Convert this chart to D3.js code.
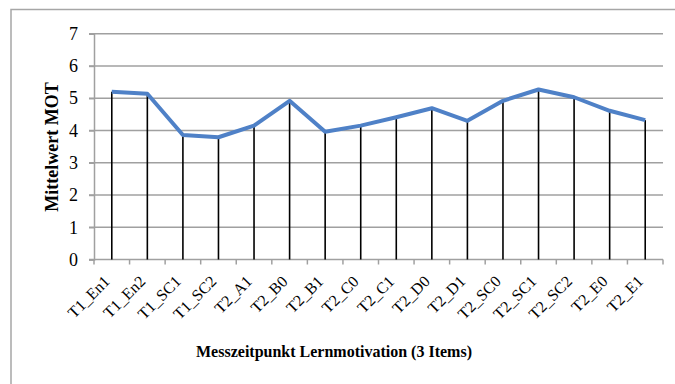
<!DOCTYPE html>
<html>
<head>
<meta charset="utf-8">
<script src="https://cdn.jsdelivr.net/npm/d3@7"></script>
<style>
  html, body { margin: 0; padding: 0; background: #fff; }
  svg { display: block; }
  svg text { font-family: 'Liberation Serif', 'Times New Roman', serif; }
</style>
</head>
<body>
<svg id="chart" width="675" height="384"></svg>
<script>
// Messzeitpunkte (Kategorien) und Mittelwerte der Lernmotivation
const categories = ["T1_En1", "T1_En2", "T1_SC1", "T1_SC2", "T2_A1", "T2_B0", "T2_B1", "T2_C0",
                    "T2_C1", "T2_D0", "T2_D1", "T2_SC0", "T2_SC1", "T2_SC2", "T2_E0", "T2_E1"];
const values = [5.20, 5.14, 3.86, 3.79, 4.15, 4.92, 3.96, 4.15,
                4.41, 4.69, 4.30, 4.92, 5.27, 5.03, 4.61, 4.32];
const yTicks = [0, 1, 2, 3, 4, 5, 6, 7];
const yTitle = "Mittelwert MOT";
const xTitle = "Messzeitpunkt Lernmotivation (3 Items)";

const svg = d3.select("#chart");
const font = "'Liberation Serif', 'Times New Roman', serif";

// Rahmen um das Diagramm
svg.append("rect")
  .attr("x", 11).attr("y", 9.5)
  .attr("width", 700).attr("height", 400)
  .attr("fill", "none").attr("stroke", "#a6a6a6").attr("stroke-width", 1.5);

const plot = { left: 94, right: 663, top: 33.7, bottom: 259.5 };

const x = d3.scaleBand().domain(categories).range([plot.left, plot.right]).padding(0);
const y = d3.scaleLinear().domain([0, 7]).range([plot.bottom, plot.top]);

// Horizontale Gitterlinien
svg.append("g").selectAll("line").data(yTicks.filter(d => d > 0)).join("line")
  .attr("x1", plot.left - 5).attr("x2", plot.right)
  .attr("y1", d => y(d)).attr("y2", d => y(d))
  .attr("stroke", "#a0a0a0").attr("stroke-width", 1.5);

// y-Achse
const yAxis = svg.append("g").attr("transform", `translate(${plot.left},0)`)
  .call(d3.axisLeft(y).tickValues(yTicks).tickSize(5).tickPadding(11).tickFormat(d3.format("d")));
yAxis.attr("font-family", null).attr("font-size", null);
yAxis.select(".domain").attr("stroke", "#a0a0a0").attr("stroke-width", 1.5);
yAxis.selectAll(".tick line").attr("stroke", "#a0a0a0").attr("stroke-width", 1.5);
yAxis.selectAll(".tick text")
  .style("font-family", font).style("font-size", "18px").attr("fill", "#000");

// x-Achse mit Teilstrichen an den Kategoriegrenzen
const xAxisG = svg.append("g").attr("transform", `translate(0,${plot.bottom})`);
xAxisG.append("line")
  .attr("x1", plot.left - 5).attr("x2", plot.right)
  .attr("stroke", "#a0a0a0").attr("stroke-width", 1.5);
const bounds = categories.map(c => x(c)).concat([plot.right]);
xAxisG.selectAll("line.tk").data(bounds).join("line").attr("class", "tk")
  .attr("x1", d => d).attr("x2", d => d).attr("y1", 0).attr("y2", 5)
  .attr("stroke", "#a0a0a0").attr("stroke-width", 1.5);

// Kategorienbeschriftungen, um 45° gedreht
xAxisG.selectAll("text.cat").data(categories).join("text").attr("class", "cat")
  .attr("transform", d => `translate(${x(d) + x.bandwidth() / 2 - 5},${19}) rotate(-45)`)
  .attr("text-anchor", "end")
  .attr("dy", "0.35em")
  .style("font-family", font).style("font-size", "16px").attr("fill", "#000")
  .text(d => d);

// Senkrechte Linien vom Wert zur Achse
const cx = d => x(d) + x.bandwidth() / 2;
svg.append("g").selectAll("line").data(categories).join("line")
  .attr("x1", cx).attr("x2", cx)
  .attr("y1", (d, i) => y(values[i])).attr("y2", plot.bottom)
  .attr("stroke", "#000").attr("stroke-width", 1.6);

// Verlaufslinie
const line = d3.line().x((d, i) => cx(categories[i])).y(d => y(d));
svg.append("path").datum(values)
  .attr("d", line)
  .attr("fill", "none").attr("stroke", "#4f81c7").attr("stroke-width", 4)
  .attr("stroke-linejoin", "round");

// Achsentitel
svg.append("text")
  .attr("transform", `translate(58,147) rotate(-90)`)
  .attr("text-anchor", "middle")
  .style("font-family", font).style("font-size", "18px").attr("font-weight", "bold")
  .text(yTitle);

svg.append("text")
  .attr("x", 334).attr("y", 357)
  .attr("text-anchor", "middle")
  .style("font-family", font).style("font-size", "16px").attr("font-weight", "bold")
  .text(xTitle);
</script>
</body>
</html>
